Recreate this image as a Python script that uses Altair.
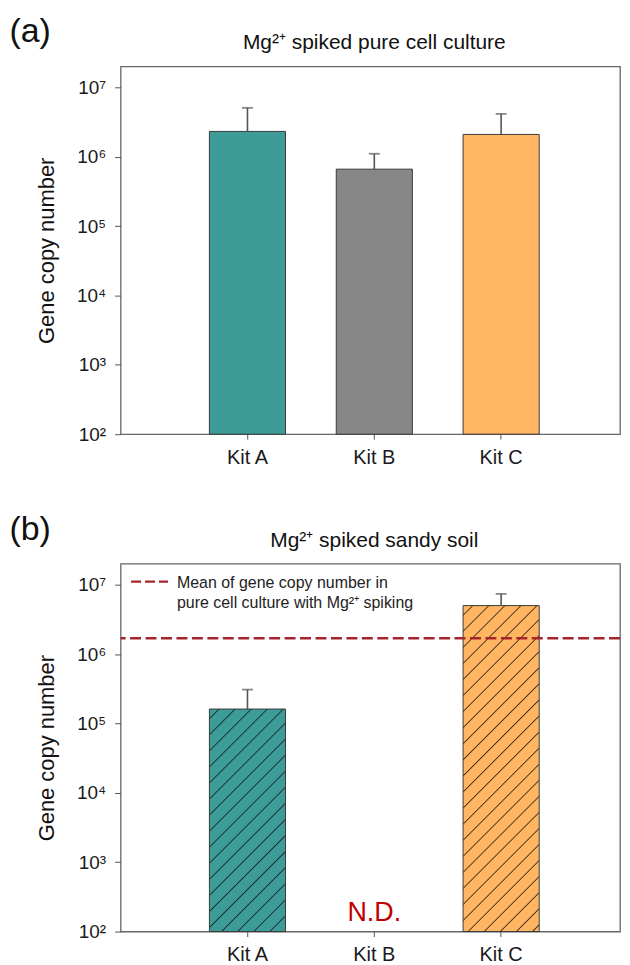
import math
import altair as alt
import pandas as pd

# ---------------- data ----------------
kits = ["Kit A", "Kit B", "Kit C"]
bar_colors = ["#3D9C98", "#878787", "#FFB562"]

pure_mean = [2.31e6, 6.6e5, 2.09e6]
pure_upper = [5.05e6, 1.10e6, 4.13e6]

soil_kits = ["Kit A", "Kit C"]
soil_mean = [1.61e5, 4.99e6]
soil_upper = [3.07e5, 7.35e6]
soil_nd_kit = ["Kit B"]

pure_culture_mean_line = [1.69e6]

y_ticks = [1e2, 1e3, 1e4, 1e5, 1e6, 1e7]
y_domain = [1e2, 2e7]

title_a = "Mg²⁺ spiked pure cell culture"
title_b = "Mg²⁺ spiked sandy soil"
legend_lines = ["Mean of gene copy number in", "pure cell culture with Mg²⁺ spiking"]

# ---------------- styling ----------------
W, H = 501, 369
STEP = 127.25          # band step in px
P_IN = 0.4
LEFT_PAD = 0.7 * STEP  # space before first band
P_OUT = ((W / STEP) - len(kits) + P_IN) / 2
ALIGN = LEFT_PAD / (2 * P_OUT * STEP)
FONT = "Liberation Sans"
EDGE = "#3a3a3a"
ERR = "#555555"
RED_LINE = "#A5262A"

xscale = alt.Scale(domain=kits, paddingInner=P_IN, paddingOuter=P_OUT, align=ALIGN)
yscale = alt.Scale(type="log", domain=y_domain, nice=False)

yaxis = alt.Axis(
    values=y_ticks,
    labelExpr="'10' + ['⁰','¹','²','³','⁴','⁵','⁶','⁷','⁸'][round(log(datum.value)/LN10)]",
    title="Gene copy number",
    titleFontSize=22, titleFontWeight="normal", titleColor="#111111",
    titleX=-62.5, titleBaseline="bottom",
    labelFontSize=19, labelColor="#1a1a1a", labelPadding=9,
    tickSize=6, tickColor="#555555", domain=False, grid=False,
)
xaxis = alt.Axis(
    title=None, labelFontSize=20, labelColor="#1a1a1a", labelPadding=8,
    tickSize=5, tickColor="#555555", domain=False, grid=False, labelAngle=0,
)


def X(field="kit"):
    return alt.X(f"{field}:N", scale=xscale, axis=xaxis)


def Y(field):
    return alt.Y(f"{field}:Q", scale=yscale, axis=yaxis)


def hatch(base, line, value, period=11.4, lw=0.9):
    """Diagonal hatch fill (lower-left to upper-right) as a linear gradient,
    with soft (anti-aliased) stripe edges."""
    w = STEP * (1 - P_IN)
    lo, hi = math.log10(y_domain[0]), math.log10(y_domain[1])
    h = H * (math.log10(value) - lo) / (hi - lo)
    D = (w + h) / math.sqrt(2)
    s = (w + h) / (w * w + h * h)
    stops = [{"offset": 0, "color": base}]
    pos = period * 0.6
    while pos + lw < D:
        stops += [
            {"offset": round((pos - lw) / D, 5), "color": base},
            {"offset": round(pos / D, 5), "color": line},
            {"offset": round((pos + lw) / D, 5), "color": base},
        ]
        pos += period
    stops.append({"offset": 1, "color": base})
    return {"gradient": "linear", "x1": 0, "y1": 0,
            "x2": round(w * s, 5), "y2": round(h * s, 5), "stops": stops}


def panel_label(txt):
    return alt.Chart(pd.DataFrame({"t": [txt]})).mark_text(
        fontSize=34, align="left", baseline="alphabetic", color="#111111", font=FONT
    ).encode(text="t:N", x=alt.value(-111.5), y=alt.value(-24))


def panel_title(txt):
    return alt.Chart(pd.DataFrame({"t": [txt]})).mark_text(
        fontSize=21, align="center", baseline="alphabetic", color="#111111", font=FONT
    ).encode(text="t:N", x=alt.value(254.5), y=alt.value(-17))


def error_layers(df):
    rule = alt.Chart(df).mark_rule(color=ERR, strokeWidth=1.6).encode(
        x=X(), y=Y("mean"), y2="upper:Q")
    cap = alt.Chart(df).mark_tick(color=ERR, size=11, thickness=1.8).encode(
        x=X(), y=Y("upper"))
    return rule, cap


# ---------------- panel (a) ----------------
df_a = pd.DataFrame({"kit": kits, "mean": pure_mean, "upper": pure_upper})
bars_a = alt.Chart(df_a).mark_bar(stroke=EDGE, strokeWidth=1).encode(
    x=X(), y=Y("mean"), y2=alt.datum(y_domain[0]),
    color=alt.Color("kit:N", scale=alt.Scale(domain=kits, range=bar_colors), legend=None),
)
rule_a, cap_a = error_layers(df_a)
panel_a = alt.layer(bars_a, rule_a, cap_a, panel_label("(a)"),
                    panel_title(title_a)).properties(width=W, height=H)

# ---------------- panel (b) ----------------
df_b = pd.DataFrame({"kit": soil_kits, "mean": soil_mean, "upper": soil_upper})
line_cols = {"Kit A": "#152a29", "Kit C": "#3d2e18"}
bar_layers = []
for k, m in zip(soil_kits, soil_mean):
    base = bar_colors[kits.index(k)]
    bar_layers.append(
        alt.Chart(df_b).transform_filter(alt.datum.kit == k)
        .mark_bar(fill=hatch(base, line_cols[k], m), stroke=EDGE, strokeWidth=1)
        .encode(x=X(), y=Y("mean"), y2=alt.datum(y_domain[0]))
    )
rule_b, cap_b = error_layers(df_b)

mean_line = alt.Chart(pd.DataFrame({"v": pure_culture_mean_line})).mark_rule(
    color=RED_LINE, strokeWidth=2.6, strokeDash=[11, 4.5]).encode(y=Y("v"))

nd = alt.Chart(pd.DataFrame({"kit": soil_nd_kit, "t": ["N.D."]})).mark_text(
    color="#C00000", fontSize=27, baseline="alphabetic", align="center", font=FONT
).encode(x=X(), y=alt.value(H - 11), text="t:N")

leg_df = pd.DataFrame({"t": legend_lines, "line": [0, 1]})
leg_sample = alt.Chart(pd.DataFrame({"s": [0]})).mark_rule(
    color=RED_LINE, strokeWidth=2.2, strokeDash=[10, 4]).encode(
    x=alt.value(10.5), x2=alt.value(47.5), y=alt.value(18))
leg_text1 = alt.Chart(leg_df.iloc[[0]]).mark_text(
    fontSize=16, align="left", baseline="alphabetic", color="#222222", font=FONT
).encode(text="t:N", x=alt.value(56.5), y=alt.value(24))
leg_text2 = alt.Chart(leg_df.iloc[[1]]).mark_text(
    fontSize=16, align="left", baseline="alphabetic", color="#222222", font=FONT
).encode(text="t:N", x=alt.value(56.5), y=alt.value(44))

panel_b = alt.layer(*bar_layers, rule_b, cap_b, mean_line, nd, leg_sample,
                    leg_text1, leg_text2, panel_label("(b)"),
                    panel_title(title_b)).properties(width=W, height=H)

chart = alt.vconcat(panel_a, panel_b, spacing=130, bounds="flush").properties(
    padding={"left": 0, "top": 5, "right": 0, "bottom": 0}
).configure(font=FONT).configure_view(stroke="#666666", strokeWidth=1.3)

chart.save("out.html", embed_options={"renderer": "svg", "actions": False})
